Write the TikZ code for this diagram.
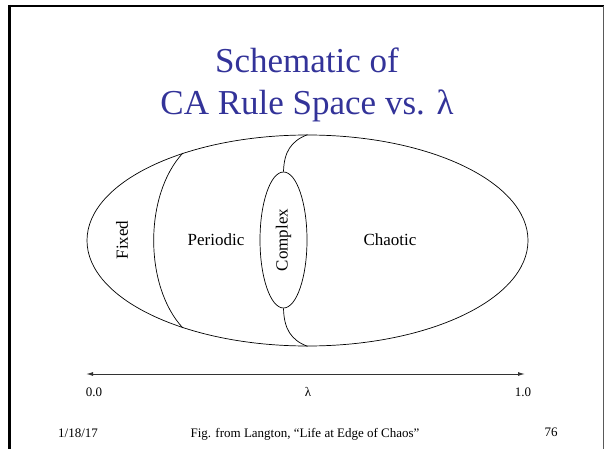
\documentclass[tikz,border=0pt]{standalone}
\usepackage{fontspec}
\setmainfont{Liberation Serif}
\usetikzlibrary{arrows.meta,positioning,shapes.geometric}
\definecolor{titleblue}{RGB}{51,51,153}

\begin{document}
\begin{tikzpicture}[x=1pt, y=-1pt, >={Latex[length=7pt,width=4pt]}, font=\fontsize{17}{20}\selectfont]
\tikzstyle{region}=[draw=black, ellipse, inner sep=0pt, line width=0.7pt]
\tikzstyle{small}=[font=\fontsize{13}{15}\selectfont]
\tikzstyle{heading}=[text=titleblue, anchor=base, font=\fontsize{35}{40}\selectfont]
\useasboundingbox (0,0) rectangle (604,449);

% slide frame
\draw[line width=2pt] (8,6) -- (604,6);
\draw[line width=3pt] (9.5,5) -- (9.5,449);
\draw[gray!70!black, line width=1pt] (603,6) -- (603,449);

\node[heading] (title1) at (307,73) {Schematic of};
\node[heading] (title2) at (307,115) {CA Rule Space vs. λ};

% rule space
\node[region, minimum width=441pt, minimum height=211pt] (space) at (307.5,240.5) {};
\node[region, minimum width=47pt, minimum height=136pt] (complex) at (283.5,240) {\rotatebox{90}{Complex}};

\draw[line width=0.7pt] (space.145) .. controls (144,195) and (144,286) .. (space.215);
\draw[line width=0.7pt] (space.north) .. controls (291,141) and (284,152) .. (complex.north);
\draw[line width=0.7pt] (space.south) .. controls (291,340) and (284,329) .. (complex.south);

\node[rotate=90] (fixed) at (122,240) {Fixed};
\node (periodic) at (216,240) {Periodic};
\node (chaotic) at (390,240) {Chaotic};

% lambda axis
\coordinate (lo) at (86,374);
\coordinate (hi) at (525,374);
\draw[<->, gray!40!black, line width=1pt] (lo) -- (hi);
\node[small] (zero) at (94,392) {0.0};
\node[small] (lam) at (308,392) {λ};
\node[small] (one) at (523,392) {1.0};

% footer
\node[small] (date) at (78,433) {1/18/17};
\node[small] (source) at (305,434) {Fig. from Langton, “Life at Edge of Chaos”};
\node[small] (page) at (551,432) {76};
\end{tikzpicture}
\end{document}
